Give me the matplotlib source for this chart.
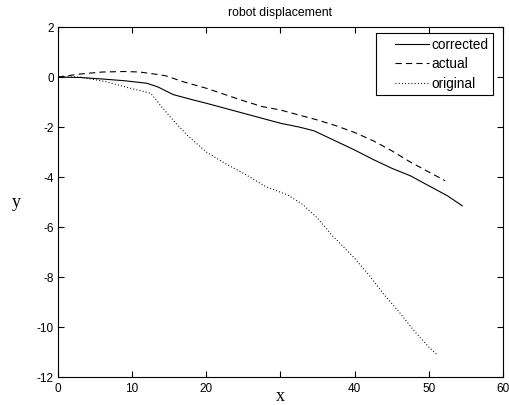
import numpy as np
import matplotlib
matplotlib.use("Agg")
import matplotlib.pyplot as plt

# ------------------------------------------------------------
# data
# ------------------------------------------------------------
corrected_x = [0, 3, 6, 9, 12, 13.5, 15.5, 18, 20, 22.5, 25, 27.5, 30, 32.5,
               34.5, 37, 40, 42.5, 45, 47.5, 50, 52.5, 54.5]
corrected_y = [0, -0.02, -0.08, -0.15, -0.25, -0.4, -0.7, -0.9, -1.05, -1.25,
               -1.45, -1.65, -1.85, -2.0, -2.15, -2.5, -2.92, -3.3, -3.65,
               -3.95, -4.35, -4.75, -5.15]

actual_x = [0, 3, 6, 9, 11, 13, 14.5, 17, 20, 22.5, 25, 27.5, 30, 32.5, 35,
            37.5, 40, 42.5, 45, 47.5, 50, 52.2]
actual_y = [0, 0.12, 0.2, 0.22, 0.2, 0.12, 0.05, -0.2, -0.45, -0.7, -0.95,
            -1.18, -1.32, -1.52, -1.72, -1.95, -2.22, -2.55, -2.95, -3.4,
            -3.8, -4.15]

original_x = [0, 3, 6.5, 9.5, 12.5, 14, 15.5, 17.5, 20, 22.5, 25, 28, 31, 33,
              35, 37, 40, 42, 44, 46, 48, 50, 51]
original_y = [0, 0, -0.19, -0.43, -0.65, -1.2, -1.72, -2.35, -3.0, -3.45,
              -3.85, -4.38, -4.72, -5.1, -5.65, -6.35, -7.25, -7.95, -8.72,
              -9.4, -10.15, -10.8, -11.08]

x_ticks = [0, 10, 20, 30, 40, 50, 60]
x_tick_labels = ["0", "10", "20", "", "40", "50", "60"]
y_ticks = [-12, -10, -8, -6, -4, -2, 0, 2]

plt.rcParams["font.family"] = ["Liberation Sans", "DejaVu Sans"]
plt.rcParams["lines.scale_dashes"] = False
plt.rcParams["axes.unicode_minus"] = False

fig = plt.figure(figsize=(5.1, 4.05), dpi=100)
ax = fig.add_axes([0.1137, 0.0691, 0.8726, 0.8642])

ax.plot(corrected_x, corrected_y, color="black", linewidth=0.8, label="corrected")
ax.plot(actual_x, actual_y, color="black", linewidth=0.8, dashes=(4.5, 3),
        label="actual")
ax.plot(original_x, original_y, color="black", linewidth=0.8, dashes=(0.7, 1.6),
        label="original")

ax.set_xlim(0, 60)
ax.set_ylim(-12, 2)
ax.set_xticks(x_ticks)
ax.set_xticklabels(x_tick_labels)
ax.set_yticks(y_ticks)
ax.tick_params(direction="in", length=4, width=0.8, top=True, right=True,
               labelsize=8.5)
ax.tick_params(axis="x", pad=4)
ax.tick_params(axis="y", pad=3)
for s in ax.spines.values():
    s.set_linewidth(0.8)

ax.set_title("robot displacement", fontsize=8.8, pad=8)
ax.set_xlabel("x", family="Liberation Serif", fontsize=13, labelpad=-5)
ax.set_ylabel("y", family="Liberation Serif", fontsize=13, rotation=0,
              labelpad=15, va="center")

leg = ax.legend(loc="upper right", bbox_to_anchor=(0.978, 0.983),
                borderaxespad=0, fontsize=9.8, handlelength=3.6,
                handletextpad=0.15, labelspacing=0.4, fancybox=False,
                framealpha=1, edgecolor="black", borderpad=0.35)
leg.get_frame().set_linewidth(0.8)
# MATLAB style: the sample lines sit to the right of an empty margin
for ln in leg.get_lines():
    xd = np.asarray(ln.get_xdata(), dtype=float)
    x0, x1 = xd[0], xd[-1]
    ln.set_xdata(np.linspace(x0 + 0.3 * (x1 - x0), x1, len(xd)))

fig.savefig("out.png", dpi=100)
